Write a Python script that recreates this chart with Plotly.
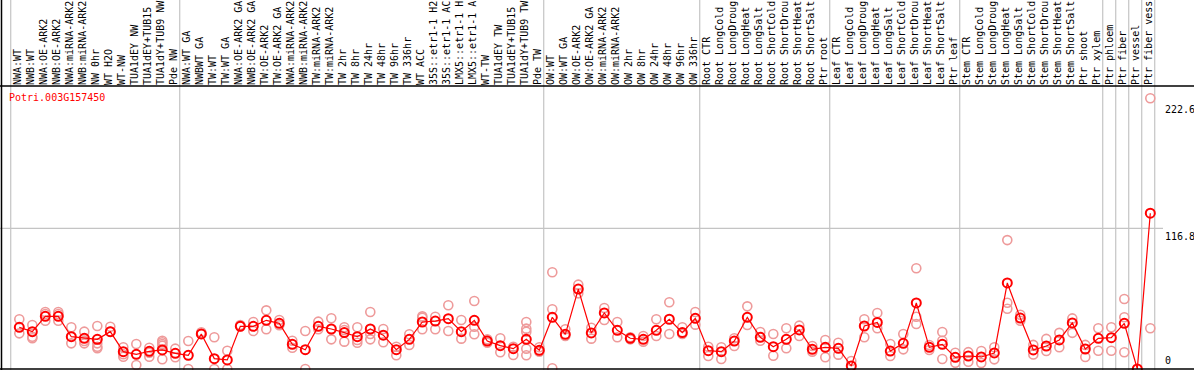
import plotly.graph_objects as go

gene_name = "Potri.003G157450"

categories = [
    "NWA:WT", "NWB:WT", "NWA:OE-ARK2", "NWB:OE-ARK2", "NWA:miRNA-ARK2", "NWB:miRNA-ARK2",
    "NW 0hr", "WT H2O", "WT-NW", "TUA1dEY NW", "TUA1dEY+TUB15", "TUA1dY+TUB9 NW", "Pde NW",
    "NWA:WT GA", "NWBWT GA", "TW:WT", "TW:WT GA", "NWA:OE-ARK2 GA", "NWB:OE-ARK2 GA",
    "TW:OE-ARK2", "TW:OE-ARK2 GA", "NWA:miRNA-ARK2", "NWB:miRNA-ARK2", "TW:miRNA-ARK2",
    "TW:miRNA-ARK2", "TW 2hr", "TW 8hr", "TW 24hr", "TW 48hr", "TW 96hr", "TW 336hr", "WT ACC",
    "35S::etr1-1 H2", "35S::etr1-1 AC", "LMX5::etr1-1 H", "LMX5::etr1-1 A", "WT-TW",
    "TUA1dEY TW", "TUA1dEY+TUB15", "TUA1dY+TUB9 TW", "Pde TW",
    "OW:WT", "OW:WT GA", "OW:OE-ARK2", "OW:OE-ARK2 GA", "OW:miRNA-ARK2", "OW:miRNA-ARK2",
    "OW 2hr", "OW 8hr", "OW 24hr", "OW 48hr", "OW 96hr", "OW 336hr",
    "Root CTR", "Root LongCold", "Root LongDroug", "Root LongHeat", "Root LongSalt",
    "Root ShortCold", "Root ShortDrou", "Root ShortHeat", "Root ShortSalt", "Ptr root",
    "Leaf CTR", "Leaf LongCold", "Leaf LongDroug", "Leaf LongHeat", "Leaf LongSalt",
    "Leaf ShortCold", "Leaf ShortDrou", "Leaf ShortHeat", "Leaf ShortSalt", "Ptr leaf",
    "Stem CTR", "Stem LongCold", "Stem LongDroug", "Stem LongHeat", "Stem LongSalt",
    "Stem ShortCold", "Stem ShortDrou", "Stem ShortHeat", "Stem ShortSalt", "Ptr shoot",
    "Ptr xylem", "Ptr phloem", "Ptr fiber", "Ptr vessel", "Ptr fiber vess",
]

group_sizes = [13, 28, 12, 10, 10, 11, 1, 1, 1, 1]

means = [
    34.6, 31.0, 43.7, 43.7, 26.8, 25.5, 24.6, 31.0, 14.4, 12.2, 14.7, 15.8, 13.0,
    11.4, 29.1, 8.6, 7.5, 35.4, 35.4, 40.4, 37.9, 20.5, 16.0, 35.4, 33.2, 30.2, 26.8,
    33.2, 28.1, 16.0, 24.6, 39.0, 39.8, 41.8, 31.0, 40.4, 23.2, 19.4, 16.9, 24.6, 15.5,
    42.9, 28.8, 66.3, 29.9, 46.5, 32.1, 25.5, 24.6, 32.1, 41.3, 30.2, 42.1,
    15.2, 14.4, 23.2, 42.9, 26.3, 18.5, 24.6, 32.4, 16.3, 18.0,
    17.2, 2.5, 35.7, 38.7, 14.9, 21.3, 54.8, 18.0, 20.5, 9.7,
    10.8, 10.0, 13.3, 71.4, 42.3, 15.8, 19.1, 24.1, 38.2, 16.6,
    25.5, 26.0, 37.9, 0.0, 129.3,
]

replicates = [
    [41.3, 29.6], [36.5, 26.8, 25.5], [47.3, 45.7, 40.1], [47.3, 45.7, 40.1], [34.6, 21.3],
    [31.0, 23.2, 21.3], [35.7, 21.3, 18.5, 17.2], [35.1, 31.0], [18.0, 12.2, 10.2], [20.8, 3.3],
    [17.7, 13.5, 10.2], [23.5, 22.2, 20.8, 19.4, 8.1], [16.9, 9.7],
    [23.2, 0.0], [29.1, 30.5], [26.3, 0.0], [15.2, 0.0], [36.5, 35.4], [39.0, 31.5],
    [48.7, 33.0], [40.7, 36.3], [23.5, 17.7], [31.5, 0.0], [39.3, 33.0], [42.1, 24.6],
    [34.6, 32.4, 22.7], [34.6, 24.1, 21.8], [47.3, 29.1, 24.6], [33.2, 22.2], [18.5, 11.4],
    [28.8, 19.9], [43.7, 42.6, 33.0], [43.4, 33.0], [52.9, 31.5], [40.7, 25.2],
    [56.5, 35.1, 28.8], [24.6, 21.8], [25.5, 13.9], [18.5, 11.6], [39.0, 33.5, 31.0, 16.9, 11.4],
    [18.0, 14.4],
    [80.3, 49.6, 0.6], [33.0, 27.4], [70.0, 62.8], [34.3, 25.2], [50.6, 40.7], [39.0, 26.3],
    [26.3, 24.6], [27.4, 22.7], [41.3, 27.4], [55.4, 29.1], [34.6, 29.1], [47.3, 36.8],
    [18.5, 10.8], [18.0, 8.3], [25.5, 19.1], [52.0, 36.5], [30.7, 23.5], [29.1, 11.0],
    [33.8, 17.2], [36.0, 27.4], [19.1, 14.4], [24.1, 9.7],
    [21.8, 11.9], [6.6], [41.3, 26.3], [46.5, 33.8], [20.8, 10.8], [29.1, 16.3],
    [83.6, 43.4, 37.4], [19.9, 15.8], [30.7, 23.5, 8.3], [13.5, 5.2],
    [14.0, 6.0], [15.0, 5.0], [18.0, 8.0], [107.0, 55.0, 50.0], [45.0, 40.0], [20.0, 12.0],
    [25.0, 15.0], [30.0, 18.0], [42.0, 30.0], [20.0, 10.0],
    [33.8, 15.2], [34.6, 15.2], [58.1, 42.9, 13.9], [], [224.7, 33.8],
]

y_tick_values = [0, 116.8, 222.6]
y_tick_labels = ["0", "116.8", "222.6"]

# ---------------- layout geometry ----------------
W, H = 1194, 370
ML, MR, MT, MB = 1, 39, 86, 1
PW, PH = W - ML - MR, H - MT - MB
CELL = 13.0            # px per category
FIRST = 19.3           # px position of first point
X_LO = (ML - FIRST) / CELL
X_HI = (ML + PW - FIRST) / CELL
Y_TOP = 234.9
CELL_LEFT = -0.66      # cell boundary offset (in categories) relative to point
MONO = "DejaVu Sans Mono"

def xpaper_from_px(px):
    return (px - ML) / PW

def xpaper_from_data(v):
    return (v - X_LO) / (X_HI - X_LO)

def ypaper_from_px(py):
    return (H - MB - py) / PH

idx = list(range(len(categories)))

rx, ry = [], []
for i, reps in zip(idx, replicates):
    for v in reps:
        rx.append(i)
        ry.append(v)

fig = go.Figure()
fig.add_trace(go.Scatter(
    x=rx, y=ry, mode="markers", cliponaxis=False, hoverinfo="skip",
    marker=dict(symbol="circle-open", size=9, color="#EE9A9A", line=dict(width=1.6, color="#EE9A9A")),
))
fig.add_trace(go.Scatter(
    x=idx, y=means, mode="lines+markers", cliponaxis=False,
    line=dict(color="#FF0000", width=1.2),
    marker=dict(symbol="circle-open", size=9, color="#FF0000", line=dict(width=2, color="#FF0000")),
))

shapes = []
b = 0
bounds = [0]
for g in group_sizes:
    b += g
    bounds.append(b)
for bd in bounds:
    xp = xpaper_from_data(bd + CELL_LEFT)
    shapes.append(dict(type="line", xref="paper", yref="paper", x0=xp, x1=xp,
                       y0=ypaper_from_px(H), y1=ypaper_from_px(0),
                       line=dict(color="#C4C4C4", width=1.2), layer="below"))
shapes.append(dict(type="line", xref="paper", yref="y", x0=xpaper_from_px(0), x1=xpaper_from_px(1163),
                   y0=y_tick_values[1], y1=y_tick_values[1], line=dict(color="#C4C4C4", width=1.2), layer="below"))
shapes.append(dict(type="line", xref="paper", yref="paper", x0=xpaper_from_px(0), x1=xpaper_from_px(W),
                   y0=1, y1=1, line=dict(color="black", width=1.5)))
shapes.append(dict(type="line", xref="paper", yref="paper", x0=xpaper_from_px(0), x1=xpaper_from_px(W),
                   y0=0, y1=0, line=dict(color="black", width=1.5)))
shapes.append(dict(type="line", xref="paper", yref="paper", x0=xpaper_from_px(1.5), x1=xpaper_from_px(1.5),
                   y0=ypaper_from_px(H), y1=ypaper_from_px(0), line=dict(color="black", width=1.5)))

annotations = [dict(text=gene_name, xref="paper", yref="paper", x=xpaper_from_px(7), y=ypaper_from_px(97),
                    xanchor="left", yanchor="middle", showarrow=False,
                    font=dict(family=MONO, size=10, color="#FF0000"))]
for v, t in zip(y_tick_values, y_tick_labels):
    annotations.append(dict(text=t, xref="paper", yref="y", x=xpaper_from_px(1163), y=v,
                            xanchor="left", yanchor=("bottom" if v == 0 else "top"), showarrow=False,
                            font=dict(family=MONO, size=10, color="black"), yshift=(1 if v == 0 else -1)))

fig.update_layout(
    width=W, height=H, template=None,
    margin=dict(l=ML, r=MR, t=MT, b=MB, pad=0),
    paper_bgcolor="white", plot_bgcolor="white", showlegend=False,
    shapes=shapes, annotations=annotations,
    xaxis=dict(range=[X_LO, X_HI], side="top", tickmode="array",
               tickvals=[i - 0.1 for i in idx], ticktext=categories, tickangle=-90,
               tickfont=dict(family=MONO, size=10, color="black"), ticks="", ticklen=0,
               showgrid=False, zeroline=False, showline=False, automargin=False, fixedrange=True),
    yaxis=dict(range=[0, Y_TOP], showticklabels=False, showgrid=False, zeroline=False,
               showline=False, automargin=False, fixedrange=True),
)

fig.write_html("out.html", config={"displayModeBar": False},
               post_script="document.body.style.margin='0px';document.body.style.overflow='hidden';")
